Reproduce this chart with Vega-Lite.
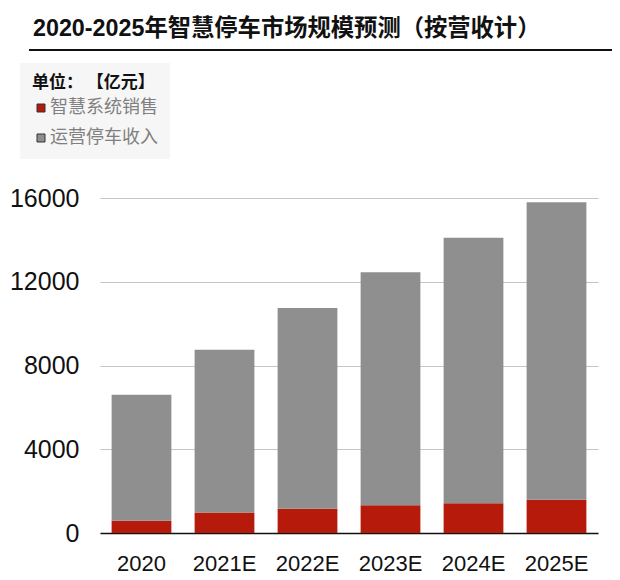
{
  "$schema": "https://vega.github.io/schema/vega-lite/v6.json",
  "width": 498,
  "height": 335,
  "autosize": {"type": "none"},
  "padding": {"left": 100, "top": 198, "right": 22, "bottom": 47},
  "background": "white",
  "config": {"view": {"stroke": null}, "font": "Liberation Sans, Noto Sans CJK SC"},
  "title": {
    "text": "2020-2025年智慧停车市场规模预测（按营收计）",
    "anchor": "start",
    "frame": "group",
    "orient": "top",
    "offset": 8,
    "dx": -67,
    "fontSize": 23.3,
    "fontWeight": "bold",
    "font": "Liberation Sans, Noto Sans CJK SC",
    "color": "#111111"
  },
  "layer": [
    {
      "data": {
        "values": [
          {"year": "2020", "series": "智慧系统销售", "value": 590},
          {"year": "2020", "series": "运营停车收入", "value": 6015},
          {"year": "2021E", "series": "智慧系统销售", "value": 985},
          {"year": "2021E", "series": "运营停车收入", "value": 7765},
          {"year": "2022E", "series": "智慧系统销售", "value": 1160},
          {"year": "2022E", "series": "运营停车收入", "value": 9590},
          {"year": "2023E", "series": "智慧系统销售", "value": 1320},
          {"year": "2023E", "series": "运营停车收入", "value": 11130},
          {"year": "2024E", "series": "智慧系统销售", "value": 1415},
          {"year": "2024E", "series": "运营停车收入", "value": 12685},
          {"year": "2025E", "series": "智慧系统销售", "value": 1590},
          {"year": "2025E", "series": "运营停车收入", "value": 14210}
        ]
      },
      "mark": {"type": "bar"},
      "encoding": {
        "x": {
          "field": "year",
          "type": "nominal",
          "sort": null,
          "scale": {"paddingInner": 0.28, "paddingOuter": 0.14},
          "axis": {
            "title": null,
            "labelAngle": 0,
            "labelFontSize": 22,
            "labelColor": "#111111",
            "labelFont": "Liberation Sans",
            "ticks": false,
            "tickSize": 0,
            "labelPadding": 20,
            "domainColor": "#111111",
            "domainWidth": 1.5,
            "grid": false
          }
        },
        "y": {
          "field": "value",
          "type": "quantitative",
          "stack": "zero",
          "scale": {"domain": [0, 16000], "nice": false},
          "axis": {
            "title": null,
            "values": [0, 4000, 8000, 12000, 16000],
            "format": "d",
            "labelFontSize": 25,
            "labelColor": "#111111",
            "labelFont": "Liberation Sans",
            "labelPadding": 21,
            "ticks": false,
            "domain": false,
            "grid": true,
            "gridColor": "#c4c4c4",
            "gridWidth": 1
          }
        },
        "color": {
          "field": "series",
          "type": "nominal",
          "scale": {"domain": ["智慧系统销售", "运营停车收入"], "range": ["#b51a0a", "#8f8f8f"]},
          "legend": {
            "orient": "none",
            "legendX": -80,
            "legendY": -135,
            "direction": "vertical",
            "title": "单位： 【亿元】",
            "titleFont": "Noto Sans CJK SC",
            "titleFontSize": 17,
            "titleFontWeight": "bold",
            "titleColor": "#111111",
            "titlePadding": 7,
            "labelFont": "Noto Sans CJK SC",
            "labelFontSize": 18,
            "labelColor": "#808080",
            "symbolType": "square",
            "symbolSize": 64,
            "symbolStrokeColor": "#333333",
            "symbolStrokeWidth": 1,
            "symbolOffset": 0,
            "labelOffset": 0,
            "rowPadding": 12,
            "padding": 12,
            "fillColor": "#f6f6f6"
          }
        },
        "order": {"field": "series", "sort": "ascending"}
      }
    },
    {
      "data": {"values": [{"label": "underline"}]},
      "mark": {"type": "rule", "color": "#111111", "strokeWidth": 2},
      "encoding": {
        "x": {"datum": -0.1426, "type": "quantitative", "scale": {"domain": [0, 1], "nice": false, "zero": false}, "axis": null},
        "x2": {"datum": 1.0281},
        "y": {"datum": 23069, "type": "quantitative"}
      }
    }
  ],
  "resolve": {"scale": {"x": "independent"}}
}
